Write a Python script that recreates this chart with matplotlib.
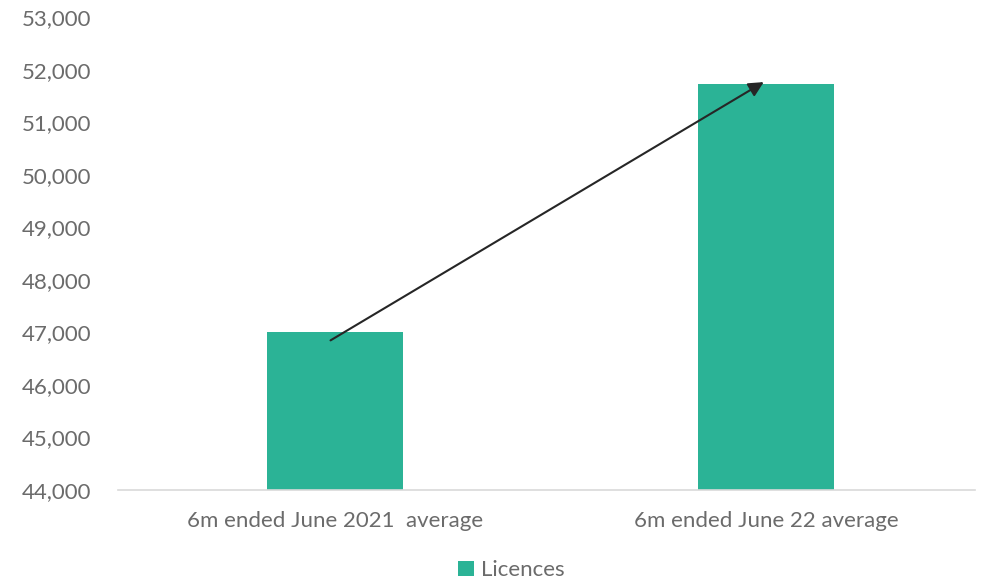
import matplotlib.pyplot as plt
from matplotlib.ticker import FuncFormatter, MultipleLocator

categories = ["6m ended June 2021  average", "6m ended June 22 average"]
licences = [47000, 51740]
arrow_start = (-0.01, 46850)
arrow_end = (0.995, 51770)

BAR_COLOR = "#2bb396"
TEXT_COLOR = "#6b6b6b"

plt.rcParams["font.family"] = ["Lato", "DejaVu Sans"]

fig = plt.figure(figsize=(9.87, 5.84), dpi=100)
ax = fig.add_axes([118 / 987, 94 / 584, 857 / 987, (490 - 17.5) / 584])

ax.bar(range(len(categories)), licences, width=0.316, color=BAR_COLOR,
       label="Licences", zorder=2)

ax.annotate("", xy=arrow_end, xytext=arrow_start,
            arrowprops=dict(arrowstyle="-|>,head_length=0.9,head_width=0.45",
                            color="#262626", lw=1.5, shrinkA=0, shrinkB=0),
            zorder=3)

ax.set_xlim(-0.503, 1.485)
ax.set_ylim(44000, 53000)
ax.yaxis.set_major_locator(MultipleLocator(1000))
ax.yaxis.set_major_formatter(FuncFormatter(lambda v, p: f"{v:,.0f}"))
ax.set_xticks(range(len(categories)))
ax.set_xticklabels(categories)

for s in ["top", "right", "left"]:
    ax.spines[s].set_visible(False)
ax.spines["bottom"].set_color("#d9d9d9")
ax.spines["bottom"].set_linewidth(1.2)
ax.tick_params(axis="both", length=0, labelsize=16, colors=TEXT_COLOR)
ax.tick_params(axis="y", pad=19)
ax.tick_params(axis="x", pad=15)

fig.legend(loc="lower center", bbox_to_anchor=(0.518, -0.028), frameon=False,
           fontsize=16, labelcolor=TEXT_COLOR, handlelength=0.7,
           handleheight=0.7, handletextpad=0.3)

fig.savefig("out.png", dpi=100)
